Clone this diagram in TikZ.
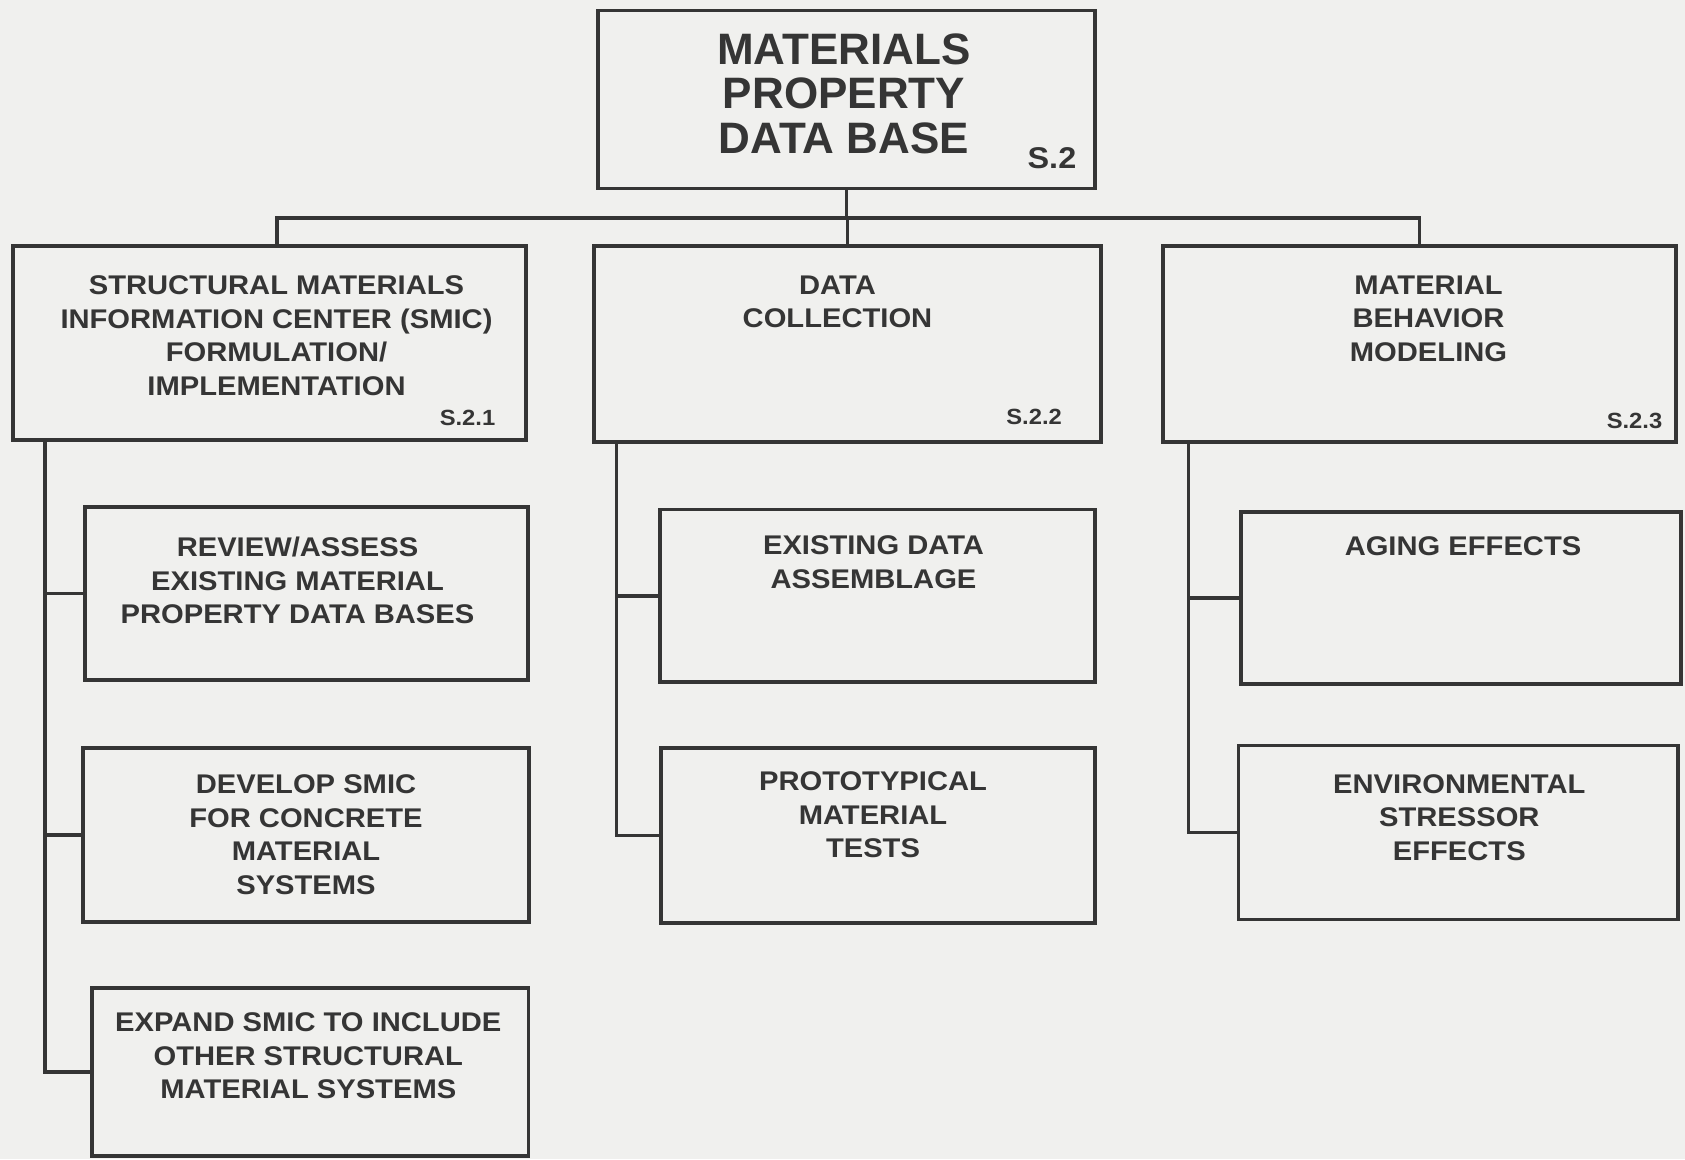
\documentclass[tikz,border=0pt]{standalone}
\usepackage{fontspec}
\usetikzlibrary{positioning}
\newfontfamily\titlefont{Liberation Sans Bold}
\newfontfamily\boxfont{Liberation Sans Bold}[FakeStretch=1.08]
\definecolor{ink}{HTML}{353535}
\definecolor{paper}{HTML}{F0F0EE}
\begin{document}
\begin{tikzpicture}[x=1pt,y=-1pt,line width=3.5pt,color=ink,
		box/.style 2 args={draw,minimum width=#1pt,minimum height=#2pt,inner sep=0pt,outer sep=0pt},
		txt/.style={font=\boxfont\fontsize{27}{33.7}\selectfont,align=center,inner sep=0pt},
		tag/.style={font=\boxfont\fontsize{22}{22}\selectfont,inner sep=0pt,anchor=base east}]
		\fill[paper] (0,0) rectangle (1685,1159);
		\useasboundingbox (0,0) rectangle (1685,1159);
		% top level
		\node[box={497}{178}] (top) at (846.5,99.6) {};
		\node[font=\titlefont\fontsize{44}{44.5}\selectfont,align=center,inner sep=0pt,below=21pt of top.north,xshift=-2.5pt] (toptxt) {MATERIALS\\PROPERTY\\DATA BASE};
		\node[tag,font=\boxfont\fontsize{30}{30}\selectfont] (toptag) at ([shift={(-17pt,20.5pt)}]top.south east) {S.2};
		% second level
		\node[box={513}{194}] (smic) at (269.5,343) {};
		\node[box={507}{196}] (coll) at (847.5,344) {};
		\node[box={513}{196}] (model) at (1419.5,344) {};
		\node[txt,below=27.7pt of smic.north,xshift=7pt] (smictxt) {STRUCTURAL MATERIALS\\INFORMATION CENTER (SMIC)\\FORMULATION/\\IMPLEMENTATION};
		\node[txt,below=27.7pt of coll.north,xshift=-10pt] (colltxt) {DATA\\COLLECTION};
		\node[txt,below=27.7pt of model.north,xshift=9pt] (modeltxt) {MATERIAL\\BEHAVIOR\\MODELING};
		\node[tag] (smictag) at ([shift={(-29pt,15pt)}]smic.south east) {S.2.1};
		\node[tag] (colltag) at ([shift={(-37.4pt,18pt)}]coll.south east) {S.2.2};
		\node[tag] (modeltag) at ([shift={(-12pt,14pt)}]model.south east) {S.2.3};
		% third level
		\node[box={443}{173}] (review) at (306.5,593.5) {};
		\node[box={446}{174}] (develop) at (306,835) {};
		\node[box={436.6}{168}] (expand) at (310.3,1071.8) {};
		\node[box={435}{172.4}] (exist) at (877.5,595.8) {};
		\node[box={434}{175}] (proto) at (878,835.5) {};
		\node[box={440}{172}] (aging) at (1461,597.9) {};
		\node[box={439.4}{174}] (envir) at (1458.3,832.6) {};
		\node[txt,below=28pt of review.north,xshift=-9pt] (reviewtxt) {REVIEW/ASSESS\\EXISTING MATERIAL\\PROPERTY DATA BASES};
		\node[txt,below=24.7pt of develop.north] (developtxt) {DEVELOP SMIC\\FOR CONCRETE\\MATERIAL\\SYSTEMS};
		\node[txt,below=23pt of expand.north,xshift=-2pt] (expandtxt) {EXPAND SMIC TO INCLUDE\\OTHER STRUCTURAL\\MATERIAL SYSTEMS};
		\node[txt,below=24.7pt of exist.north,xshift=-4pt] (existtxt) {EXISTING DATA\\ASSEMBLAGE};
		\node[txt,below=21.7pt of proto.north,xshift=-5pt] (prototxt) {PROTOTYPICAL\\MATERIAL\\TESTS};
		\node[txt,below=22.5pt of aging.north,xshift=2pt] (agingtxt) {AGING EFFECTS};
		\node[txt,below=26.8pt of envir.north,xshift=1pt] (envirtxt) {ENVIRONMENTAL\\STRESSOR\\EFFECTS};
		% connectors
		\coordinate (bus) at (845,218);
		\draw (top.south) -- (top.south |- bus);
		\draw ([xshift=7.5pt]smic.north) |- (bus) -| (model.north);
		\draw (coll.north) -- (coll.north |- bus);
		\coordinate (spA) at ([xshift=32pt]smic.south west);
		\coordinate (spB) at ([xshift=22.4pt]coll.south west);
		\coordinate (spC) at ([xshift=25.6pt]model.south west);
		\draw (spA) |- (expand.west);
		\draw (review.west) -- (review.west -| spA);
		\draw (develop.west) -- (develop.west -| spA);
		\draw (spB) |- (proto.west);
		\draw (exist.west) -- (exist.west -| spB);
		\draw (spC) |- (envir.west);
		\draw (aging.west) -- (aging.west -| spC);
	\end{tikzpicture}
\end{document}
